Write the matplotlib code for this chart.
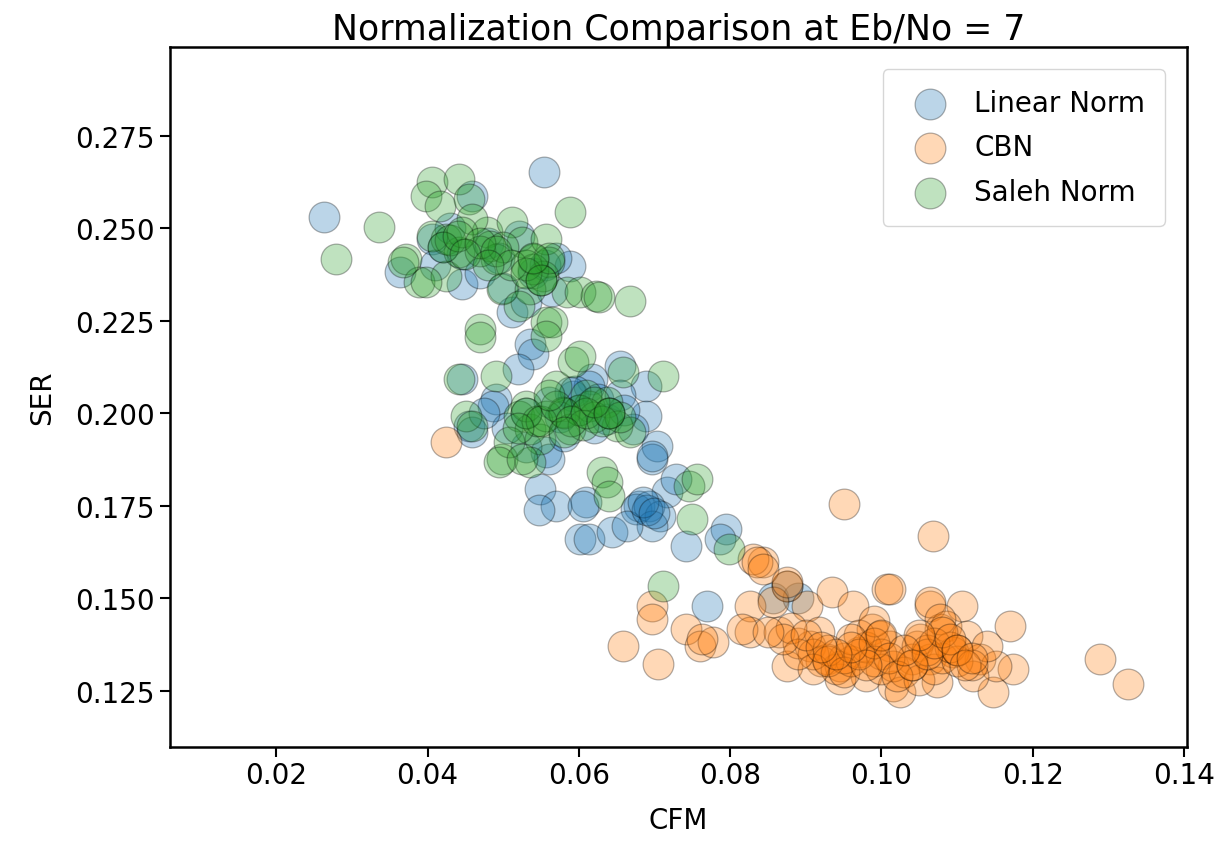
import numpy as np
import matplotlib
matplotlib.use("Agg")
import matplotlib.pyplot as plt

# Linear Norm (CFM, SER)
linear_cfm = [0.0263, 0.0554, 0.0769, 0.0406, 0.0459, 0.0588, 0.0363, 0.0512, 0.0521, 0.0420,
              0.0430, 0.0445, 0.0480, 0.0495, 0.0540, 0.0555, 0.0570, 0.0535, 0.0539, 0.0446,
              0.0491, 0.0455, 0.0654, 0.0689, 0.0689, 0.0703, 0.0697, 0.0557, 0.0548, 0.0570,
              0.0610, 0.0680, 0.0716, 0.0729, 0.0618, 0.0592, 0.0637, 0.0671, 0.0486, 0.0614,
              0.0588, 0.0561, 0.0459, 0.0547, 0.0605, 0.0601, 0.0614, 0.0644, 0.0676, 0.0693,
              0.0707, 0.0742, 0.0697, 0.0795, 0.0786, 0.0697, 0.0663, 0.0690, 0.0685, 0.0700,
              0.0856, 0.0890, 0.0875, 0.0530, 0.0560, 0.0575, 0.0600, 0.0625, 0.0640, 0.0620,
              0.0580, 0.0530, 0.0505, 0.0475, 0.0410, 0.0445, 0.0470, 0.0500, 0.0530, 0.0565,
              0.0655, 0.0660, 0.0595, 0.0520]
linear_ser = [0.2531, 0.2653, 0.1480, 0.2472, 0.2588, 0.2399, 0.2382, 0.2274, 0.2480, 0.2450,
              0.2500, 0.2430, 0.2460, 0.2420, 0.2380, 0.2400, 0.2420, 0.2188, 0.2161, 0.2093,
              0.2039, 0.1966, 0.2128, 0.2074, 0.1993, 0.1912, 0.1877, 0.1896, 0.1796, 0.1750,
              0.1760, 0.1750, 0.1788, 0.1823, 0.2093, 0.2047, 0.1985, 0.1958, 0.2020, 0.2074,
              0.2058, 0.1877, 0.1950, 0.1740, 0.1750, 0.1661, 0.1661, 0.1680, 0.1742, 0.1750,
              0.1723, 0.1642, 0.1696, 0.1688, 0.1661, 0.1885, 0.1696, 0.1740, 0.1760, 0.1730,
              0.1502, 0.1502, 0.1535, 0.2000, 0.2030, 0.1990, 0.2010, 0.2040, 0.2000, 0.1960,
              0.1940, 0.1910, 0.1960, 0.2000, 0.2400, 0.2350, 0.2380, 0.2340, 0.2300, 0.2330,
              0.2050, 0.2010, 0.2060, 0.2120]

# CBN (CFM, SER)
cbn_cfm = [0.0425, 0.0951, 0.1068, 0.0697, 0.0697, 0.0658, 0.0704, 0.0742, 0.0760, 0.0777,
           0.0763, 0.0843, 0.0830, 0.0875, 0.0826, 0.0826, 0.0816, 0.0856, 0.0865, 0.0875,
           0.0901, 0.0935, 0.0962, 0.1007, 0.1064, 0.0905, 0.0928, 0.0945, 0.0971, 0.0980,
           0.0988, 0.1011, 0.1015, 0.1047, 0.1064, 0.1077, 0.0945, 0.0918, 0.1011, 0.1064,
           0.1107, 0.1170, 0.1289, 0.1326, 0.1174, 0.1147, 0.1024, 0.1073, 0.1041, 0.1086,
           0.1113, 0.1130, 0.1152, 0.1139, 0.1015, 0.1051, 0.1077, 0.1094, 0.1121, 0.0998,
           0.0835, 0.0843, 0.0875, 0.0920, 0.0940, 0.0960, 0.0980, 0.1000, 0.1000, 0.1030,
           0.1050, 0.1070, 0.1080, 0.1100, 0.1090, 0.0970, 0.0990, 0.0890, 0.0880, 0.0910,
           0.0950, 0.0990, 0.1040, 0.1060, 0.1100, 0.1120, 0.0930, 0.0960,
           0.0910, 0.0930, 0.0950, 0.0970, 0.0990, 0.1000, 0.1010, 0.1020, 0.1040, 0.1060,
           0.1070, 0.1080, 0.1090, 0.1100, 0.1110, 0.1120, 0.0980, 0.0960, 0.0940, 0.1050,
           0.1030, 0.0890, 0.0870, 0.0850, 0.0900, 0.0920]
cbn_ser = [0.1923, 0.1755, 0.1669, 0.1480, 0.1445, 0.1372, 0.1323, 0.1418, 0.1372, 0.1382,
           0.1391, 0.1599, 0.1607, 0.1535, 0.1480, 0.1409, 0.1418, 0.1491, 0.1409, 0.1318,
           0.1480, 0.1518, 0.1480, 0.1526, 0.1480, 0.1372, 0.1336, 0.1318, 0.1355, 0.1290,
           0.1418, 0.1372, 0.1264, 0.1372, 0.1336, 0.1418, 0.1282, 0.1409, 0.1526, 0.1491,
           0.1480, 0.1426, 0.1336, 0.1269, 0.1310, 0.1247, 0.1247, 0.1274, 0.1336, 0.1426,
           0.1399, 0.1336, 0.1318, 0.1372, 0.1318, 0.1391, 0.1445, 0.1355, 0.1290, 0.1399,
           0.1599, 0.1580, 0.1545, 0.1330, 0.1310, 0.1330, 0.1370, 0.1350, 0.1310, 0.1300,
           0.1280, 0.1310, 0.1340, 0.1330, 0.1370, 0.1400, 0.1440, 0.1380, 0.1420, 0.1350,
           0.1340, 0.1330, 0.1320, 0.1360, 0.1360, 0.1320, 0.1360, 0.1390,
           0.1310, 0.1330, 0.1300, 0.1350, 0.1380, 0.1400, 0.1340, 0.1290, 0.1320, 0.1350,
           0.1380, 0.1410, 0.1390, 0.1360, 0.1320, 0.1340, 0.1320, 0.1370, 0.1350, 0.1400,
           0.1360, 0.1350, 0.1390, 0.1410, 0.1400, 0.1370]

# Saleh Norm (CFM, SER)
saleh_cfm = [0.0336, 0.0279, 0.0406, 0.0442, 0.0398, 0.0416, 0.0425, 0.0406, 0.0372, 0.0389,
             0.0425, 0.0442, 0.0478, 0.0482, 0.0491, 0.0499, 0.0512, 0.0525, 0.0539, 0.0557,
             0.0561, 0.0552, 0.0535, 0.0521, 0.0557, 0.0584, 0.0601, 0.0623, 0.0588, 0.0469,
             0.0455, 0.0459, 0.0667, 0.0627, 0.0367, 0.0398, 0.0565, 0.0469, 0.0557, 0.0442,
             0.0491, 0.0451, 0.0459, 0.0499, 0.0521, 0.0535, 0.0548, 0.0535, 0.0570, 0.0592,
             0.0601, 0.0579, 0.0588, 0.0614, 0.0637, 0.0650, 0.0667, 0.0658, 0.0711, 0.0631,
             0.0508, 0.0557, 0.0637, 0.0640, 0.0750, 0.0746, 0.0756, 0.0799, 0.0711, 0.0495,
             0.0525, 0.0430, 0.0445, 0.0470, 0.0500, 0.0540, 0.0550, 0.0530, 0.0560, 0.0600,
             0.0620, 0.0640, 0.0530, 0.0545, 0.0580, 0.0605, 0.0610, 0.0655,
             0.0420, 0.0440, 0.0470, 0.0490, 0.0510, 0.0530, 0.0550, 0.0540, 0.0450, 0.0480,
             0.0530, 0.0550, 0.0570, 0.0590, 0.0610, 0.0630, 0.0620, 0.0640, 0.0560, 0.0580,
             0.0520]
saleh_ser = [0.2504, 0.2418, 0.2626, 0.2634, 0.2588, 0.2561, 0.2472, 0.2480, 0.2418, 0.2355,
             0.2372, 0.2437, 0.2490, 0.2453, 0.2418, 0.2336, 0.2518, 0.2464, 0.2418, 0.2472,
             0.2410, 0.2372, 0.2336, 0.2291, 0.2247, 0.2328, 0.2328, 0.2318, 0.2545, 0.2228,
             0.2580, 0.2526, 0.2304, 0.2315, 0.2409, 0.2355, 0.2247, 0.2207, 0.2210, 0.2093,
             0.2101, 0.1993, 0.1966, 0.1877, 0.1993, 0.1958, 0.1931, 0.1869, 0.2074, 0.2139,
             0.2155, 0.2004, 0.1958, 0.2020, 0.2031, 0.1966, 0.1950, 0.2112, 0.2101, 0.1842,
             0.1923, 0.1993, 0.1815, 0.1777, 0.1715, 0.1804, 0.1823, 0.1634, 0.1534, 0.1869,
             0.1877, 0.2470, 0.2490, 0.2440, 0.2450, 0.2390, 0.2360, 0.2400, 0.2420, 0.2010,
             0.1990, 0.2000, 0.2020, 0.1980, 0.2000, 0.1970, 0.2050, 0.1990,
             0.2450, 0.2480, 0.2460, 0.2440, 0.2400, 0.2380, 0.2360, 0.2420, 0.2430, 0.2400,
             0.2000, 0.1980, 0.2020, 0.1980, 0.2000, 0.1980, 0.2030, 0.2000, 0.2050, 0.1950,
             0.1960]

fig, ax = plt.subplots(figsize=(12.2, 8.45), dpi=100)
plt.subplots_adjust(left=0.139, right=0.973, bottom=0.115, top=0.943)

kw = dict(s=490, alpha=0.3, edgecolors="k", linewidths=0.9)
ax.scatter(linear_cfm, linear_ser, color="C0", label="Linear Norm", **kw)
ax.scatter(cbn_cfm, cbn_ser, color="C1", label="CBN", **kw)
ax.scatter(saleh_cfm, saleh_ser, color="C2", label="Saleh Norm", **kw)

ax.set_xlim(0.0059, 0.1404)
ax.set_ylim(0.1099, 0.299)
ax.set_xticks([0.02, 0.04, 0.06, 0.08, 0.10, 0.12, 0.14])
ax.set_xticklabels(["0.02", "0.04", "0.06", "0.08", "0.10", "0.12", "0.14"])
ax.set_yticks([0.125, 0.150, 0.175, 0.200, 0.225, 0.250, 0.275])
ax.set_yticklabels(["0.125", "0.150", "0.175", "0.200", "0.225", "0.250", "0.275"])
ax.tick_params(labelsize=20, length=7, width=1.5)
for sp in ax.spines.values():
    sp.set_linewidth(1.8)

ax.set_title("Normalization Comparison at Eb/No = 7", fontsize=25)
ax.set_xlabel("CFM", fontsize=20, labelpad=12)
ax.set_ylabel("SER", fontsize=20, labelpad=14)
ax.legend(loc="upper right", fontsize=20, markerscale=1.0, handletextpad=0.6,
          borderaxespad=0.8, borderpad=0.7, labelspacing=0.6)

plt.savefig("out.png", dpi=100)
plt.close()
